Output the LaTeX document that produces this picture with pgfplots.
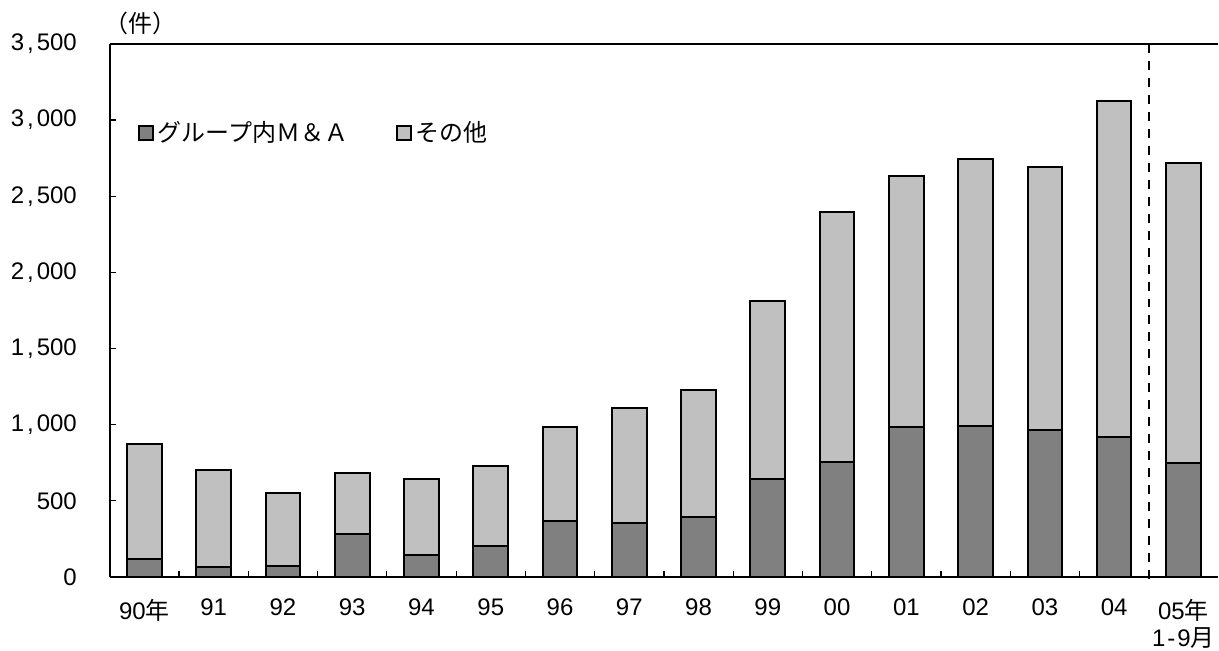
\documentclass[border=0pt]{standalone}
\usepackage{fontspec}
\setmainfont{Liberation Sans}
\newfontfamily\cjk{Noto Sans CJK JP}
\usepackage{pgfplots}
\pgfplotsset{compat=1.18}
\definecolor{darkbar}{RGB}{128,128,128}
\definecolor{lightbar}{RGB}{192,192,192}
\pgfplotsset{sqlegend/.style={legend image code/.code={\draw[##1,line width=0.8pt] (0pt,-3.5pt) rectangle (7pt,3.5pt);}}}
\newcommand{\cm}{\kern1.5pt,\kern1.5pt}
\begin{document}
\begin{tikzpicture}
\path[use as bounding box] (-55pt,-37pt) rectangle (555.5pt,289pt);
\begin{axis}[
  scale only axis, width=555pt, height=267pt,
  ybar stacked, bar width=17.35pt,
  xmin=-0.5, xmax=15.5, ymin=0, ymax=3500,
  axis x line*=bottom, axis y line*=left,
  axis line style={-, line width=1pt, black},
  clip=false,
  tick align=inside,
  tick style={black, line width=0.6pt},
  major tick length=3pt,
  ytick={0,500,1000,1500,2000,2500,3000,3500},
  yticklabels={0,500,{1\cm000},{1\cm500},{2\cm000},{2\cm500},{3\cm000},{3\cm500}},
  yticklabel style={xshift=-13pt},
  xtick={0.5,1.5,...,14.5},
  xticklabels={},
  extra x ticks={0,1,...,15},
  extra x tick labels={90{\cjk 年},91,92,93,94,95,96,97,98,99,00,01,02,03,04,{05{\cjk 年}\\1\kern1pt-\kern1pt9{\cjk 月}}},
  extra x tick style={major tick length=0pt},
  xticklabel style={align=center, yshift=-7.5pt},
  tick label style={font=\fontsize{12}{13.5}\selectfont},
  legend style={at={(0.02,0.833)}, anchor=west, draw=none, fill=none,
    font=\fontsize{12}{14}\selectfont,
    /tikz/every even column/.append style={column sep=22pt}},
  legend columns=2,
]
\addplot[fill=darkbar, draw=black, line width=1pt, sqlegend]
  coordinates {(0,116) (1,66) (2,70) (3,284) (4,142) (5,203) (6,365) (7,356) (8,391) (9,642) (10,758) (11,983) (12,990) (13,963) (14,920) (15,747)};
\addlegendentry{{\cjk グループ内Ｍ＆Ａ}}
\addplot[fill=lightbar, draw=black, line width=1pt, sqlegend]
  coordinates {(0,758) (1,638) (2,479) (3,398) (4,503) (5,529) (6,623) (7,754) (8,837) (9,1169) (10,1636) (11,1649) (12,1752) (13,1731) (14,2208) (15,1971)};
\addlegendentry{{\cjk その他}}
\draw[line width=1pt] (rel axis cs:0,1) -- (rel axis cs:1,1);
\draw[line width=1pt, dash pattern=on 4.5pt off 4pt] (axis cs:14.5,3500) -- ([yshift=-4pt]axis cs:14.5,0);
\node[anchor=base west, font=\fontsize{12}{14}\selectfont\cjk, inner sep=0pt] at ([xshift=-3pt,yshift=5.5pt]rel axis cs:0,1) {（件）};
\end{axis}
\end{tikzpicture}
\end{document}
